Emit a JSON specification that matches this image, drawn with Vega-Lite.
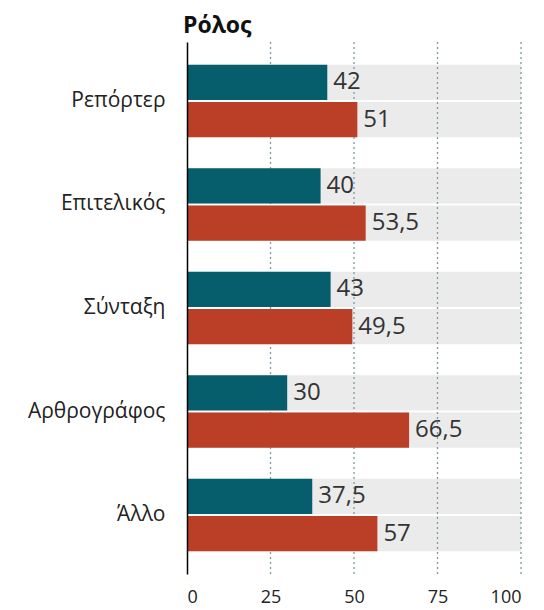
{
  "$schema": "https://vega.github.io/schema/vega-lite/v6.json",
  "width": 334,
  "height": 532,
  "padding": {"left": 27, "top": 15, "right": 5, "bottom": 5},
  "config": {
    "locale": {"number": {"decimal": ",", "thousands": ".", "grouping": [3], "currency": ["", " €"]}},
    "view": {"stroke": null},
    "font": "Open Sans"
  },
  "title": {"text": "Ρόλος", "anchor": "start", "frame": "group", "font": "Open Sans", "fontSize": 23, "fontWeight": "bold", "color": "#111111", "offset": 3, "dx": -4},
  "layer": [
    {
      "data": {"name": "main", "values": [
        {"cat": "Ρεπόρτερ", "series": "Σειρά 1", "value": 42},
        {"cat": "Ρεπόρτερ", "series": "Σειρά 2", "value": 51},
        {"cat": "Επιτελικός", "series": "Σειρά 1", "value": 40},
        {"cat": "Επιτελικός", "series": "Σειρά 2", "value": 53.5},
        {"cat": "Σύνταξη", "series": "Σειρά 1", "value": 43},
        {"cat": "Σύνταξη", "series": "Σειρά 2", "value": 49.5},
        {"cat": "Αρθρογράφος", "series": "Σειρά 1", "value": 30},
        {"cat": "Αρθρογράφος", "series": "Σειρά 2", "value": 66.5},
        {"cat": "Άλλο", "series": "Σειρά 1", "value": 37.5},
        {"cat": "Άλλο", "series": "Σειρά 2", "value": 57}
      ]},
      "layer": [
        {
          "mark": {"type": "bar", "color": "#ebebeb"},
          "encoding": {
            "y": {"field": "cat", "type": "nominal", "sort": null, "scale": {"paddingInner": 0.3, "paddingOuter": 0.22},
              "axis": {"title": null, "ticks": false, "domainColor": "#000000", "domainWidth": 1.5, "labelFont": "Open Sans", "labelFontSize": 21, "labelColor": "#222222", "labelPadding": 22, "zindex": 1}},
            "yOffset": {"field": "series", "type": "nominal", "scale": {"paddingInner": 0.055}},
            "x": {"datum": 100, "type": "quantitative", "scale": {"domain": [0, 100]},
              "axis": {"title": null, "grid": false, "domain": false, "ticks": false, "values": [0, 25, 50, 75, 100], "labelFont": "Open Sans", "labelFontSize": 18, "labelColor": "#222222", "labelPadding": 14}}
          }
        }
      ]
    },
    {
      "data": {"values": [{"g": 25}, {"g": 50}, {"g": 75}, {"g": 100}]},
      "mark": {"type": "rule", "color": "#7f98a3", "strokeDash": [2, 3], "strokeWidth": 1.3},
      "encoding": {"x": {"field": "g", "type": "quantitative"}}
    },
    {
      "data": {"name": "main"},
      "layer": [
        {
          "mark": {"type": "bar"},
          "encoding": {
            "y": {"field": "cat", "type": "nominal", "sort": null},
            "yOffset": {"field": "series", "type": "nominal"},
            "x": {"field": "value", "type": "quantitative"},
            "color": {"field": "series", "type": "nominal", "scale": {"range": ["#065e6c", "#ba3f26"]}, "legend": null}
          }
        },
        {
          "mark": {"type": "text", "align": "left", "baseline": "middle", "dx": 6, "fontSize": 24, "font": "Open Sans", "color": "#333333"},
          "encoding": {
            "y": {"field": "cat", "type": "nominal", "sort": null},
            "yOffset": {"field": "series", "type": "nominal"},
            "x": {"field": "value", "type": "quantitative"},
            "text": {"field": "value", "type": "quantitative", "format": ".1~f"}
          }
        }
      ]
    }
  ]
}
